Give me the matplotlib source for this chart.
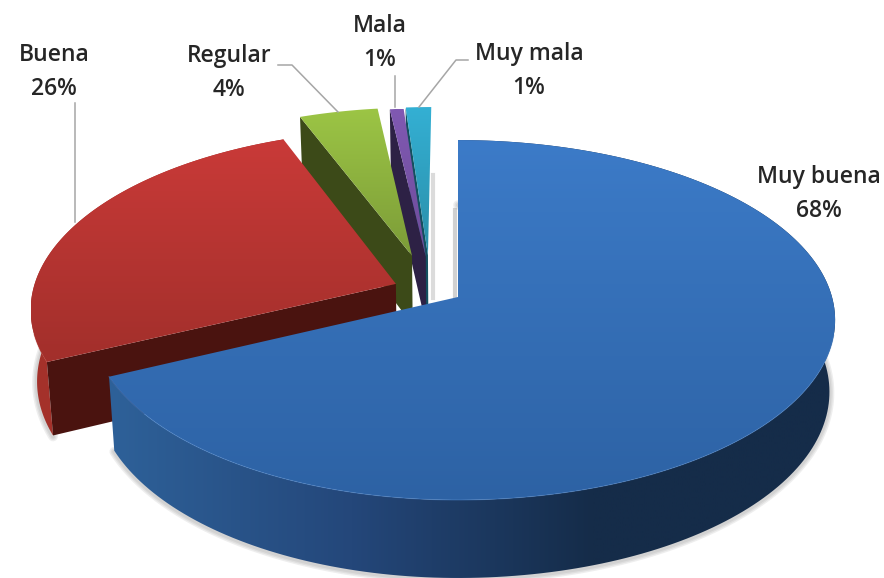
import numpy as np
import matplotlib
matplotlib.use("Agg")
import matplotlib.pyplot as plt
from matplotlib.colors import LinearSegmentedColormap
from matplotlib.patches import Polygon

# data
categories = ["Muy buena", "Buena", "Regular", "Mala", "Muy mala"]
percents = [68, 26, 4, 0.7, 1.3]

# look of the slices, same order as categories
explode = [(0.0, 0.0), (-0.172, -0.075), (-0.13, -0.24), (-0.091, -0.235), (-0.085, -0.244)]
top_colors = [("#3c7bc8", "#2d62a4"), ("#c93a38", "#a22f2b"), ("#9cc545", "#7c9c38"),
              ("#8059b2", "#6d4c9a"), ("#34b0d4", "#2a8ea8")]
arc_colors = [("#2e6199", "#24477a", "#152c49", "#152c49"), ("#a5322b", "#9a2d28")]
face_colors = ["#152c49", "#4a130f", "#3c4a18", "#2d2145", "#14505f"]
label_pos = [(819, 194), (54, 72), (229, 73), (380, 43), (529, 71)]
leaders = [([75, 75], [103, 222]), ([278, 292, 338], [65, 65, 112]), ([395, 395], [76, 107]),
           ([468, 456, 419], [60, 60, 107])]

cx, cy = 458, 297


def top_xy(X, Y):
    den = 1 - 0.128 * Y
    X = np.where(np.asarray(X) < 0, np.asarray(X) * 0.975, X)
    return cx + 374 * X / den, cy + 177 * Y / den


def bottom_xy(X, Y):
    x, y = top_xy(X, Y)
    return cx + (x - cx) * 0.985, y + 71 + 7 * Y


def grad_fill(ax, poly, colors, horizontal=False, zorder=2):
    poly = np.asarray(poly)
    patch = Polygon(poly, closed=True, fc="none", ec="none", zorder=zorder)
    ax.add_patch(patch)
    x0, x1 = poly[:, 0].min(), poly[:, 0].max()
    y0, y1 = poly[:, 1].min(), poly[:, 1].max()
    cmap = LinearSegmentedColormap.from_list("g", colors)
    ramp = np.linspace(0, 1, 256)
    ramp = ramp.reshape(1, -1) if horizontal else ramp.reshape(-1, 1)
    im = ax.imshow(ramp, cmap=cmap, extent=(x0, x1, y1, y0), aspect="auto", zorder=zorder,
                   interpolation="bilinear")
    im.set_clip_path(patch)


fig = plt.figure(figsize=(8.84, 5.78), dpi=100)
ax = fig.add_axes([0, 0, 1, 1])
ax.axis("off")

# angles clockwise from 12 o'clock
edges = np.concatenate([[0], np.cumsum(percents)]) / sum(percents) * 2 * np.pi

# back slices first, blue goes last
z = 2
for i in [4, 3, 2, 1, 0]:
    ox, oy = explode[i]
    t = np.linspace(edges[i], edges[i + 1], 200)
    X = ox + np.sin(t)
    Y = oy - np.cos(t)
    tx, ty = top_xy(X, Y)
    bx, by = bottom_xy(X, Y)
    ax0, ay0 = top_xy(ox, oy)
    bx0, by0 = bottom_xy(ox, oy)

    top = np.column_stack([np.r_[ax0, tx], np.r_[ay0, ty]])
    face = [(ax0, ay0), (tx[0], ty[0]), (bx[0], by[0]), (bx0, by0)]

    # only the two big slices show their outer wall
    if i < 2:
        for lw in [7, 5, 3]:
            ax.plot(bx, by + 1, color="#777777", lw=lw, alpha=0.12, zorder=1, solid_capstyle="round")
        arc = np.column_stack([np.r_[tx, bx[::-1]], np.r_[ty, by[::-1]]])
        grad_fill(ax, arc, arc_colors[i], horizontal=True, zorder=z)
    ax.add_patch(Polygon(face, closed=True, fc=face_colors[i], ec="none", zorder=z + 1))
    grad_fill(ax, top, top_colors[i], zorder=z + 2)
    if i < 2:
        rim = Y > 0.2
        ax.plot(tx[rim], ty[rim], color="#4a86d0" if i == 0 else "#b53a34", lw=0.8, alpha=0.4, zorder=z + 3)
    z += 4

# faint shadows in the gap behind the small slices
ax.plot([433, 433], [175, 298], color="#999999", lw=3, alpha=0.35, zorder=1)
ax.plot([455, 455], [210, 298], color="#999999", lw=3, alpha=0.45, zorder=1)

for xs, ys in leaders:
    ax.plot(xs, ys, color="#a6a6a6", lw=1.1, zorder=30)

for name, pct, (lx, ly) in zip(categories, percents, label_pos):
    ax.text(lx, ly, "{}\n{:.0f}%".format(name, pct), ha="center", va="center", family="Open Sans",
            fontsize=16.5, weight="semibold", color="#262626", linespacing=1.55, zorder=31)

ax.set_xlim(0, 884)
ax.set_ylim(578, 0)
fig.savefig("out.png", dpi=100)
